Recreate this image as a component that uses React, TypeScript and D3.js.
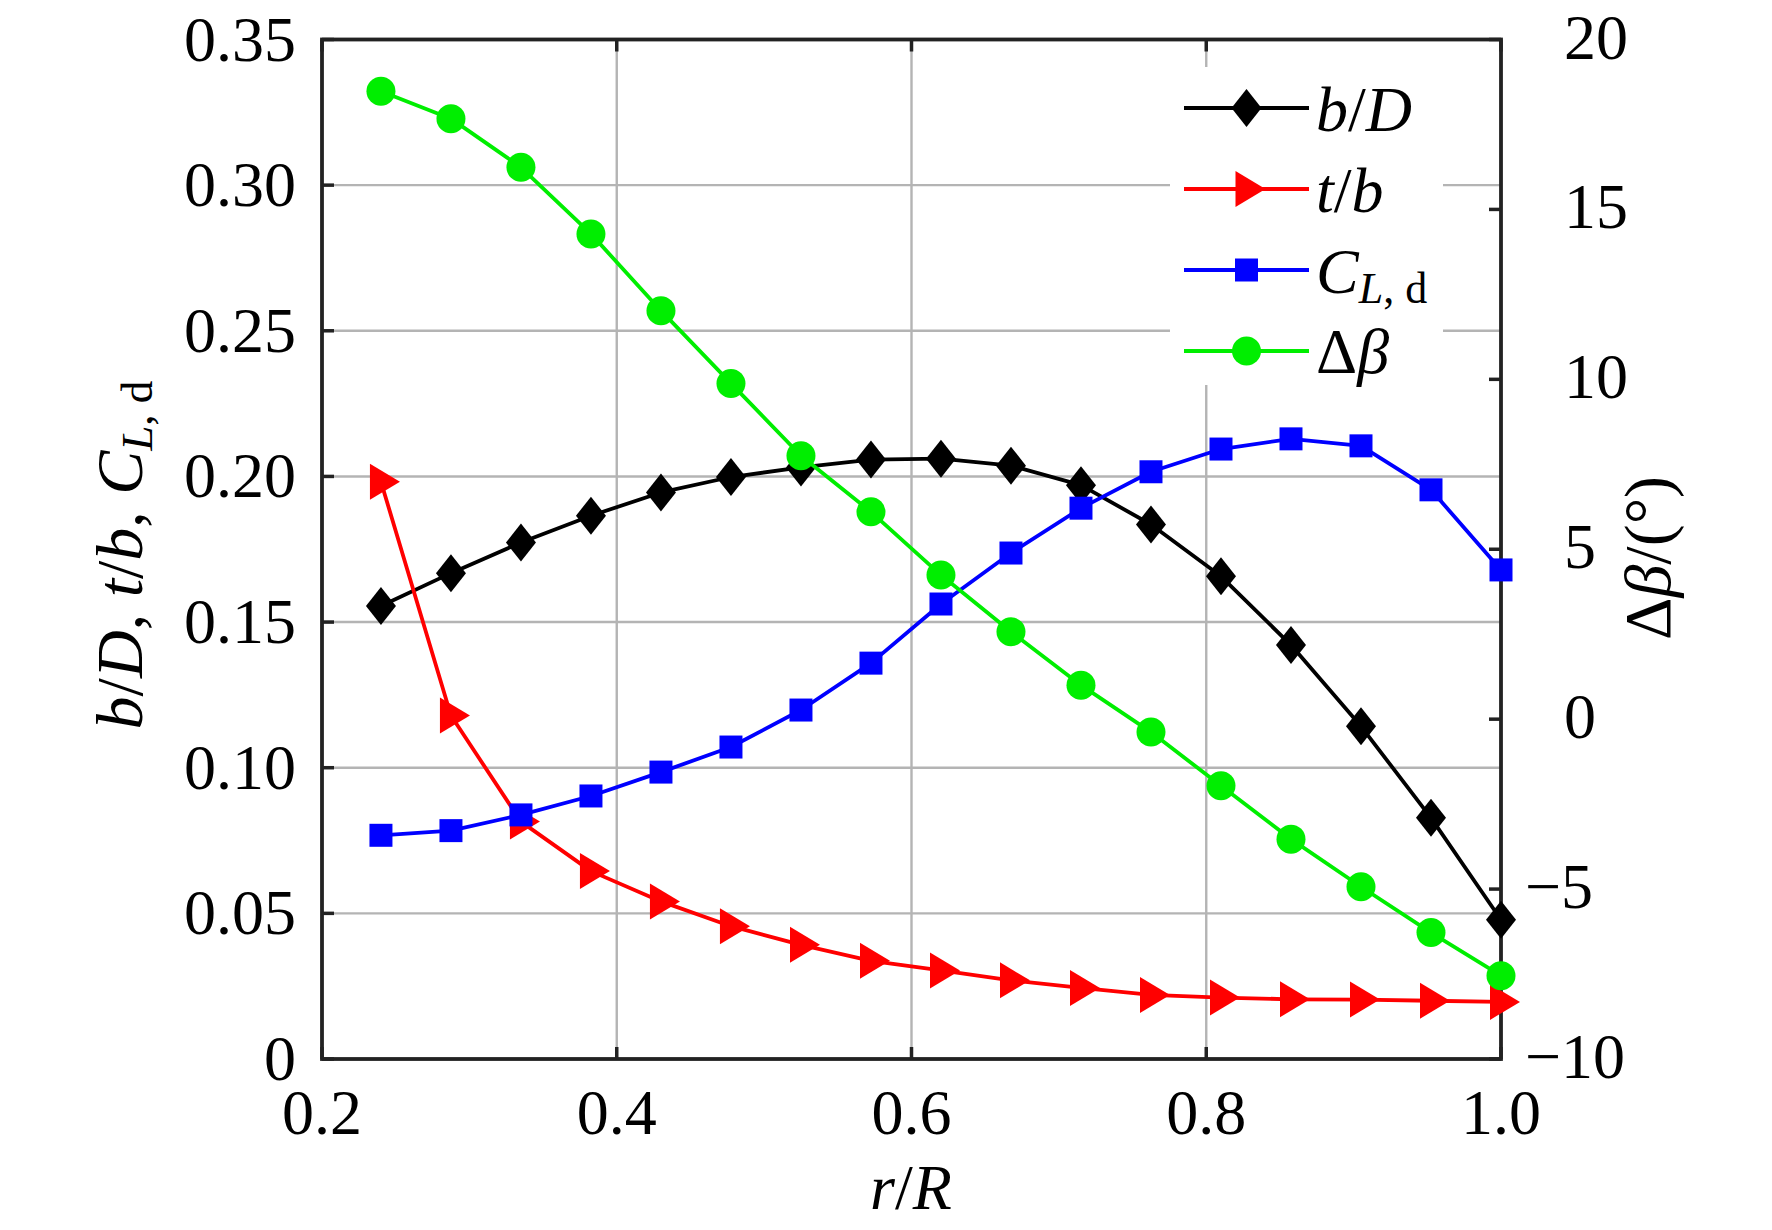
import React from "react";
import * as d3 from "d3";

// r/R stations
const rR = [0.24, 0.2875, 0.335, 0.3825, 0.43, 0.4775, 0.525, 0.5725, 0.62, 0.6675, 0.715, 0.7625, 0.81, 0.8575, 0.905, 0.9525, 1.0];
// left axis series
const bD = [0.1555, 0.1668, 0.1773, 0.1865, 0.1945, 0.1998, 0.2031, 0.2058, 0.2061, 0.2037, 0.197, 0.1835, 0.1657, 0.1421, 0.1142, 0.0828, 0.0478];
const tb = [0.1982, 0.1179, 0.0815, 0.0645, 0.0541, 0.0456, 0.0392, 0.0337, 0.0304, 0.027, 0.0244, 0.022, 0.0211, 0.0205, 0.0204, 0.02, 0.0196];
const CLd = [0.0768, 0.0784, 0.0838, 0.0903, 0.0985, 0.1071, 0.1198, 0.1359, 0.1562, 0.1737, 0.1891, 0.2016, 0.2094, 0.2129, 0.2105, 0.1954, 0.1679];
// right axis series (deg)
const dBeta = [18.48, 17.67, 16.24, 14.28, 12.02, 9.88, 7.75, 6.1, 4.24, 2.57, 1.0, -0.38, -1.96, -3.53, -4.93, -6.28, -7.55];

const xTicks = [0.2, 0.4, 0.6, 0.8, 1.0];
const xTickLabels = ["0.2", "0.4", "0.6", "0.8", "1.0"];
const yLTicks = [0, 0.05, 0.1, 0.15, 0.2, 0.25, 0.3, 0.35];
const yLTickLabels = ["0", "0.05", "0.10", "0.15", "0.20", "0.25", "0.30", "0.35"];
const yRTicks = [-10, -5, 0, 5, 10, 15, 20];
const yRTickLabels = ["\u221210", "\u22125", "0", "5", "10", "15", "20"];

const W = 1772;
const H = 1230;
const L = 322, R = 1501, T = 39.5, B = 1059;
const FONT = "'Liberation Serif', 'Times New Roman', serif";
const AX = "#222222";
const GRID = "#b4b4b4";

const x = d3.scaleLinear().domain([0.2, 1.0]).range([L, R]);
const yL = d3.scaleLinear().domain([0, 0.35]).range([B, T]);
const yR = d3.scaleLinear().domain([-10, 20]).range([B, T]);

const diamond = "M0,-19L15,0L0,19L-15,0Z";
const triangle = "M-11,-18L19,0L-11,18Z";
const square = "M-11.5,-11.5H11.5V11.5H-11.5Z";

type Marker = "d" | "t" | "s" | "c";

function MarkerShape({ kind, color, cx, cy }: { kind: Marker; color: string; cx: number; cy: number }) {
  if (kind === "c") return <circle cx={cx} cy={cy} r={14.5} fill={color} />;
  const d = kind === "d" ? diamond : kind === "t" ? triangle : square;
  return <path d={d} transform={`translate(${cx},${cy})`} fill={color} />;
}

const seriesDefs: { vals: number[]; color: string; marker: Marker; scale: d3.ScaleLinear<number, number> }[] = [
  { vals: bD, color: "#000000", marker: "d", scale: yL },
  { vals: tb, color: "#ff0000", marker: "t", scale: yL },
  { vals: CLd, color: "#0000ff", marker: "s", scale: yL },
  { vals: dBeta, color: "#00ee00", marker: "c", scale: yR },
];

export default function App() {
  const line = (vals: number[], sc: d3.ScaleLinear<number, number>) =>
    d3.line<number>().x((_, i) => x(rR[i])).y((v) => sc(v))(vals) || "";

  const legendRows = [108, 189, 270, 351];

  return (
    <svg
      width={W}
      height={H}
      viewBox={`0 0 ${W} ${H}`}
      style={{ position: "absolute", left: 0, top: 0, background: "#fff" }}
      fontFamily={FONT}
    >
      <rect x={0} y={0} width={W} height={H} fill="#fff" />
      {/* grid */}
      <g stroke={GRID} strokeWidth={2.4}>
        {xTicks.slice(1, -1).map((t) => (
          <line key={"gx" + t} x1={x(t)} x2={x(t)} y1={T} y2={B} />
        ))}
        {yLTicks.slice(1, -1).map((t) => (
          <line key={"gy" + t} x1={L} x2={R} y1={yL(t)} y2={yL(t)} />
        ))}
      </g>
      {/* legend background */}
      <rect x={1170} y={67} width={273} height={318} fill="#fff" />
      {/* axes box */}
      <rect x={L} y={T} width={R - L} height={B - T} fill="none" stroke={AX} strokeWidth={3.8} />
      <g stroke={AX} strokeWidth={3.5}>
        {xTicks.map((t) => (
          <g key={"xt" + t}>
            <line x1={x(t)} x2={x(t)} y1={B} y2={B - 12} />
            <line x1={x(t)} x2={x(t)} y1={T} y2={T + 12} />
          </g>
        ))}
        {yLTicks.map((t) => (
          <line key={"ylt" + t} x1={L} x2={L + 12} y1={yL(t)} y2={yL(t)} />
        ))}
        {yRTicks.map((t) => (
          <line key={"yrt" + t} x1={R} x2={R - 12} y1={yR(t)} y2={yR(t)} />
        ))}
      </g>
      {/* tick labels */}
      <g fontSize={64} fill="#000">
        {xTicks.map((t, i) => (
          <text key={"xl" + t} x={x(t)} y={1134} textAnchor="middle">
            {xTickLabels[i]}
          </text>
        ))}
        {yLTicks.map((t, i) => (
          <text key={"yll" + t} x={296} y={yL(t) + 21} textAnchor="end">
            {yLTickLabels[i]}
          </text>
        ))}
        {yRTicks.map((t, i) => (
          <text key={"yrl" + t} x={t < 0 ? 1525 : 1564} y={yR(t) + 19} textAnchor="start">
            {yRTickLabels[i]}
          </text>
        ))}
      </g>
      {/* axis titles */}
      <text x={911} y={1209} fontSize={64} textAnchor="middle">
        <tspan fontStyle="italic">r</tspan>
        <tspan>/</tspan>
        <tspan fontStyle="italic">R</tspan>
      </text>
      <text transform="translate(142,555) rotate(-90)" fontSize={66} textAnchor="middle">
        <tspan fontStyle="italic">b</tspan>
        <tspan>/</tspan>
        <tspan fontStyle="italic">D</tspan>
        <tspan>, </tspan>
        <tspan fontStyle="italic">t</tspan>
        <tspan>/</tspan>
        <tspan fontStyle="italic">b</tspan>
        <tspan>, </tspan>
        <tspan fontStyle="italic">C</tspan>
        <tspan fontStyle="italic" fontSize={45} dy={10}>L</tspan>
        <tspan fontSize={45}>, d</tspan>
      </text>
      <text transform="translate(1670,558) rotate(-90)" fontSize={66} textAnchor="middle">
        <tspan>Δ</tspan>
        <tspan fontStyle="italic">β</tspan>
        <tspan>/(°)</tspan>
      </text>
      {/* data */}
      {seriesDefs.map((s, si) => (
        <g key={"s" + si}>
          <path d={line(s.vals, s.scale)} fill="none" stroke={s.color} strokeWidth={3.8} strokeLinejoin="round" />
          {s.vals.map((v, i) => (
            <MarkerShape key={i} kind={s.marker} color={s.color} cx={x(rR[i])} cy={s.scale(v)} />
          ))}
        </g>
      ))}
      {/* legend */}
      {seriesDefs.map((s, si) => (
        <g key={"lg" + si}>
          <line x1={1184} x2={1309} y1={legendRows[si]} y2={legendRows[si]} stroke={s.color} strokeWidth={3.8} />
          <MarkerShape kind={s.marker} color={s.color} cx={1246.5} cy={legendRows[si]} />
        </g>
      ))}
      <g fontSize={64} fill="#000">
        <text x={1316} y={legendRows[0] + 23}>
          <tspan fontStyle="italic">b</tspan>
          <tspan>/</tspan>
          <tspan fontStyle="italic">D</tspan>
        </text>
        <text x={1316} y={legendRows[1] + 23}>
          <tspan fontStyle="italic">t</tspan>
          <tspan>/</tspan>
          <tspan fontStyle="italic">b</tspan>
        </text>
        <text x={1316} y={legendRows[2] + 23}>
          <tspan fontStyle="italic">C</tspan>
          <tspan fontStyle="italic" fontSize={44} dy={10}>L</tspan>
          <tspan fontSize={44}>, d</tspan>
        </text>
        <text x={1316} y={legendRows[3] + 22}>
          <tspan>Δ</tspan>
          <tspan fontStyle="italic">β</tspan>
        </text>
      </g>
    </svg>
  );
}
